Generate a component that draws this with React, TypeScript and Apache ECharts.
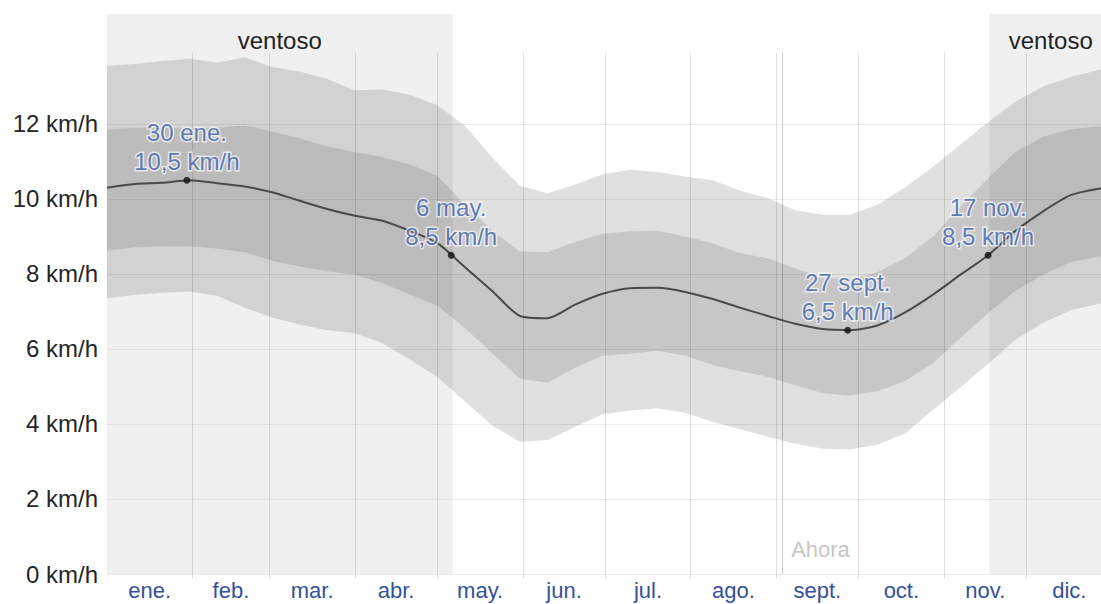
import React, { useEffect, useRef } from "react";
import * as echarts from "echarts";

// Day of year (0 = 1 Jan) at which each value was read
const days = [0, 10, 20, 30, 40, 50, 60, 70, 80, 90, 100, 110, 120, 130, 140, 150, 160, 170, 180, 190, 200, 210, 220, 230, 240, 250, 260, 270, 280, 290, 300, 310, 320, 330, 340, 350, 360, 365];
// Average wind speed (km/h): median, 25th–75th and 10th–90th percentile bands
const median = [10.30, 10.40, 10.43, 10.50, 10.42, 10.33, 10.18, 9.95, 9.73, 9.55, 9.42, 9.15, 8.82, 8.18, 7.54, 6.88, 6.82, 7.18, 7.47, 7.62, 7.63, 7.52, 7.33, 7.10, 6.88, 6.67, 6.53, 6.50, 6.63, 6.98, 7.45, 7.98, 8.50, 9.15, 9.67, 10.10, 10.27, 10.30];
const p90 = [13.55, 13.60, 13.68, 13.74, 13.63, 13.78, 13.52, 13.40, 13.20, 12.90, 12.92, 12.78, 12.50, 11.95, 11.10, 10.35, 10.15, 10.38, 10.66, 10.78, 10.72, 10.60, 10.50, 10.22, 10.02, 9.70, 9.58, 9.58, 9.85, 10.32, 10.86, 11.45, 12.05, 12.60, 13.00, 13.25, 13.44, 13.50];
const p75 = [11.85, 11.90, 11.90, 11.88, 11.90, 11.96, 11.80, 11.62, 11.40, 11.25, 11.12, 10.92, 10.62, 9.85, 9.15, 8.60, 8.58, 8.85, 9.07, 9.14, 9.15, 9.00, 8.82, 8.55, 8.42, 8.15, 7.90, 7.86, 8.05, 8.43, 9.00, 9.80, 10.55, 11.25, 11.66, 11.86, 11.93, 11.90];
const p25 = [8.62, 8.71, 8.74, 8.74, 8.68, 8.58, 8.35, 8.20, 8.07, 7.98, 7.76, 7.45, 7.15, 6.55, 5.88, 5.20, 5.10, 5.50, 5.82, 5.87, 5.95, 5.82, 5.57, 5.40, 5.26, 5.03, 4.82, 4.76, 4.88, 5.15, 5.62, 6.30, 6.95, 7.55, 7.98, 8.32, 8.46, 8.55];
const p10 = [7.35, 7.44, 7.50, 7.53, 7.42, 7.10, 6.84, 6.65, 6.50, 6.42, 6.15, 5.72, 5.25, 4.60, 3.95, 3.52, 3.57, 3.92, 4.26, 4.36, 4.42, 4.30, 4.05, 3.86, 3.66, 3.47, 3.34, 3.32, 3.45, 3.75, 4.37, 4.98, 5.60, 6.25, 6.70, 7.03, 7.20, 7.30];

// Month boundaries (day of year) and labels
const monthStarts = [0, 31, 59, 90, 120, 151, 181, 212, 243, 273, 304, 334, 365];
const monthNames = ["ene.", "feb.", "mar.", "abr.", "may.", "jun.", "jul.", "ago.", "sept.", "oct.", "nov.", "dic."];

// Y axis ticks
const yTicks = [0, 2, 4, 6, 8, 10, 12];

// Windy season ("ventoso") ranges in day of year
const windyRanges = [[0, 125.5], [320.5, 365]];
const windyLabel = "ventoso";

// Annotated extremes
const annDays = [29, 125, 269, 320];
const annValues = [10.5, 8.5, 6.5, 8.5];
const annDates = ["30 ene.", "6 may.", "27 sept.", "17 nov."];

// "Now" marker
const ahoraDay = 245.2;
const ahoraText = "Ahora";

const FONT = '"Liberation Sans", Arial, Helvetica, sans-serif';

function bandSeries(name: string, lo: number[], hi: number[], fill: string) {
  return {
    name,
    type: "custom",
    silent: true,
    z: 2,
    clip: true,
    data: days.map((d, i) => [d, lo[i], hi[i]]),
    encode: { x: 0, y: [1, 2] },
    renderItem: (params: any, api: any) => {
      if (params.dataIndex !== 0) return null;
      const pts: number[][] = [];
      for (let i = 0; i < days.length; i++) pts.push(api.coord([days[i], hi[i]]));
      for (let i = days.length - 1; i >= 0; i--) pts.push(api.coord([days[i], lo[i]]));
      return {
        type: "polygon",
        shape: { points: pts },
        style: { fill },
      };
    },
  };
}

export default function App() {
  const ref = useRef<HTMLDivElement>(null);

  useEffect(() => {
    if (!ref.current) return;
    const chart = echarts.init(ref.current, null, { renderer: "svg" });

    const pair = (arr: number[]) => days.map((d, i) => [d, arr[i]]);
    const monthMids = monthStarts.slice(0, 12).map((s, i) => (s + monthStarts[i + 1]) / 2);
    const innerStarts = monthStarts.slice(1, 12);
    const vTop = 13.9;

    const option: any = {
      animation: false,
      grid: { left: 107, right: 0, top: 14, bottom: 30 },
      xAxis: {
        type: "value",
        min: 0,
        max: 365,
        axisLine: { show: false },
        axisTick: {
          show: true,
          customValues: innerStarts,
          length: 5,
          lineStyle: { color: "rgba(0,0,0,0.13)" },
        },
        splitLine: { show: false },
        axisLabel: {
          customValues: monthMids,
          formatter: (v: number) => {
            let best = 0;
            monthMids.forEach((m, i) => {
              if (Math.abs(m - v) < Math.abs(monthMids[best] - v)) best = i;
            });
            return monthNames[best];
          },
          color: "#34529c",
          fontSize: 22,
          fontFamily: FONT,
          margin: 5,
        },
      },
      yAxis: {
        type: "value",
        min: 0,
        max: 14.93,
        interval: 2,
        axisLine: { show: false },
        axisTick: { show: false },
        splitLine: { show: false },
        axisLabel: {
          formatter: (v: number) => (v > 12 ? "" : `${v} km/h`),
          color: "#262626",
          fontSize: 24,
          fontFamily: FONT,
          margin: 9,
        },
      },
      series: [
        {
          name: "bg",
          type: "line",
          data: pair(median),
          symbol: "none",
          silent: true,
          z: 1,
          lineStyle: { opacity: 0 },
          markArea: {
            silent: true,
            itemStyle: { color: "#f0f0f0" },
            label: {
              show: true,
              position: "insideTop",
              distance: 14,
              formatter: windyLabel,
              color: "#222",
              fontSize: 24,
              fontFamily: FONT,
            },
            data: windyRanges.map((r) => [{ xAxis: r[0] }, { xAxis: r[1] }]),
          },
        },
        bandSeries("p10-p90", p10, p90, "rgba(0,0,0,0.12)"),
        bandSeries("p25-p75", p25, p75, "rgba(0,0,0,0.11)"),
        {
          name: "grid",
          type: "line",
          data: pair(median),
          symbol: "none",
          silent: true,
          z: 3,
          lineStyle: { opacity: 0 },
          markLine: {
            silent: true,
            symbol: ["none", "none"],
            label: { show: false },
            lineStyle: { color: "rgba(0,0,0,0.07)", type: "solid", width: 1 },
            data: [
              ...yTicks.map((v) => ({ yAxis: v })),
              ...innerStarts.map((d) => [
                { coord: [d, vTop], lineStyle: { color: "rgba(0,0,0,0.12)", type: "solid", width: 1 } },
                { coord: [d, 0] },
              ]),
              [
                { coord: [ahoraDay, vTop], lineStyle: { color: "rgba(0,0,0,0.2)", type: "solid", width: 1 } },
                { coord: [ahoraDay, 0] },
              ],
            ],
          },
          markPoint: {
            silent: true,
            symbol: "circle",
            symbolSize: 0,
            itemStyle: { color: "transparent" },
            label: {
              show: true,
              position: "right",
              distance: 9,
              formatter: ahoraText,
              color: "#c6c6c6",
              fontSize: 22,
              fontFamily: FONT,
            },
            data: [{ coord: [ahoraDay, 0.64] }],
          },
        },
        {
          name: "median",
          type: "line",
          data: pair(median),
          symbol: "none",
          smooth: 0.25,
          silent: true,
          z: 4,
          lineStyle: { color: "#4a4a4a", width: 2 },
        },
        {
          name: "annotations",
          type: "scatter",
          data: annDays.map((d, i) => [d, annValues[i]]),
          symbolSize: 7,
          z: 5,
          silent: true,
          itemStyle: { color: "#111" },
          label: {
            show: true,
            position: "top",
            distance: 1,
            formatter: (p: any) =>
              `${annDates[p.dataIndex]}\n${annValues[p.dataIndex].toFixed(1).replace(".", ",")} km/h`,
            color: "#3a5ba6",
            fontSize: 24,
            lineHeight: 29,
            fontFamily: FONT,
            textBorderColor: "rgba(255,255,255,0.85)",
            textBorderWidth: 3,
          },
        },
      ],
    };

    chart.setOption(option);
    return () => chart.dispose();
  }, []);

  return (
    <div
      style={{
        position: "absolute",
        left: 0,
        top: 0,
        width: 1101,
        height: 604,
        overflow: "hidden",
        background: "#fff",
      }}
    >
      <div ref={ref} style={{ width: 1112, height: 604 }} />
    </div>
  );
}
